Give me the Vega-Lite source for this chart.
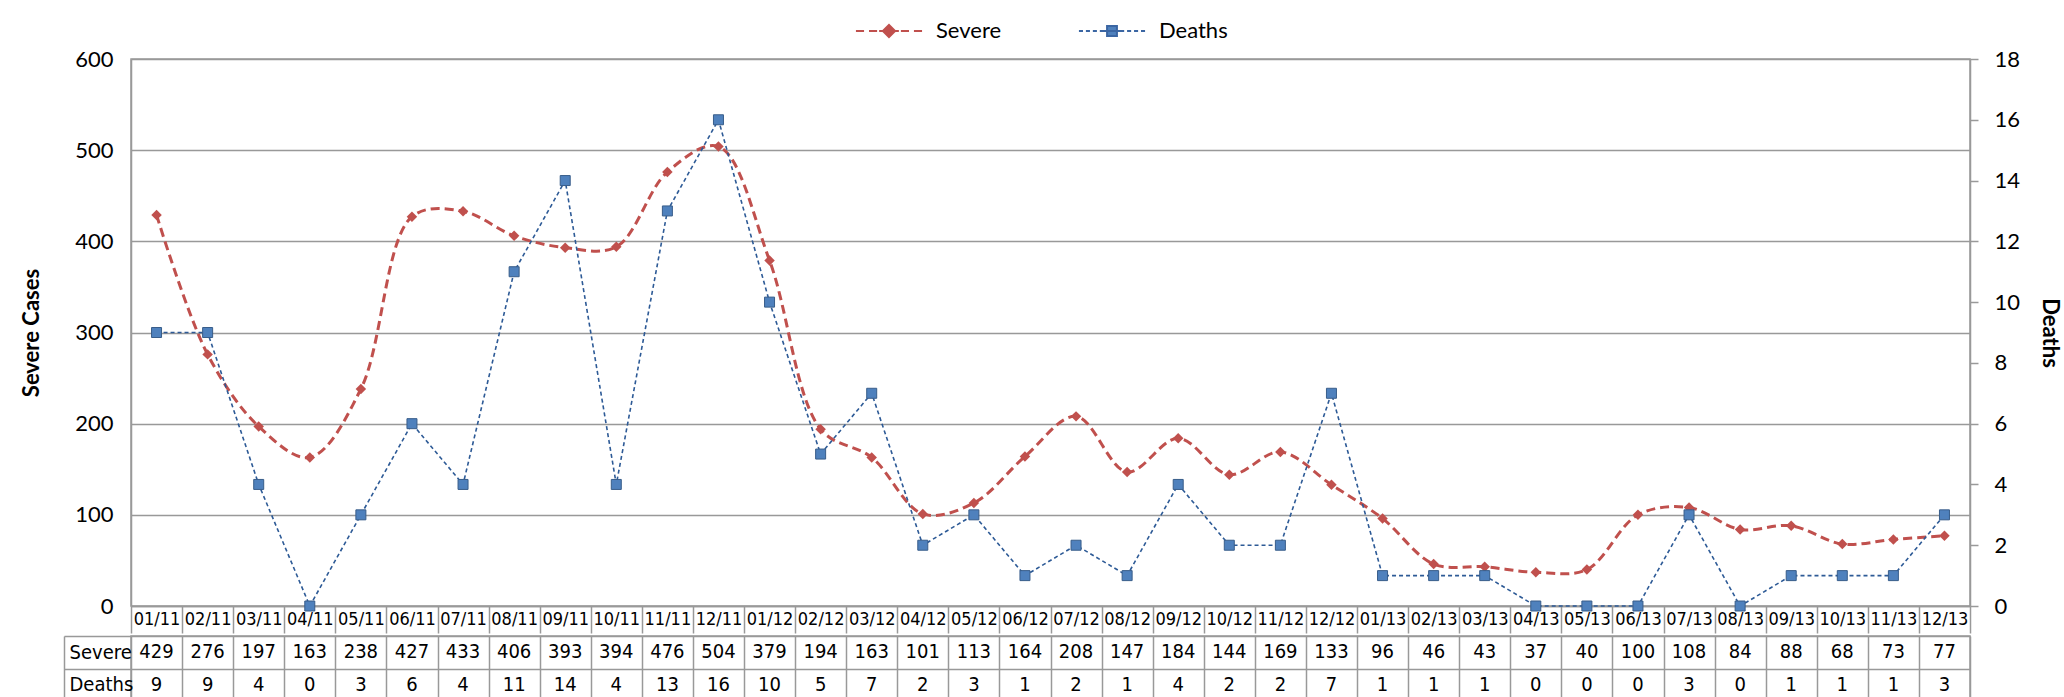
{
  "$schema": "https://vega.github.io/schema/vega-lite/v6.json",
  "padding": {"left": 19, "top": 0, "right": 0, "bottom": 0},
  "background": "white",
  "spacing": -10,
  "datasets": {
    "d": [
      {"m": "01/11", "Severe": 429, "Deaths": 9},
      {"m": "02/11", "Severe": 276, "Deaths": 9},
      {"m": "03/11", "Severe": 197, "Deaths": 4},
      {"m": "04/11", "Severe": 163, "Deaths": 0},
      {"m": "05/11", "Severe": 238, "Deaths": 3},
      {"m": "06/11", "Severe": 427, "Deaths": 6},
      {"m": "07/11", "Severe": 433, "Deaths": 4},
      {"m": "08/11", "Severe": 406, "Deaths": 11},
      {"m": "09/11", "Severe": 393, "Deaths": 14},
      {"m": "10/11", "Severe": 394, "Deaths": 4},
      {"m": "11/11", "Severe": 476, "Deaths": 13},
      {"m": "12/11", "Severe": 504, "Deaths": 16},
      {"m": "01/12", "Severe": 379, "Deaths": 10},
      {"m": "02/12", "Severe": 194, "Deaths": 5},
      {"m": "03/12", "Severe": 163, "Deaths": 7},
      {"m": "04/12", "Severe": 101, "Deaths": 2},
      {"m": "05/12", "Severe": 113, "Deaths": 3},
      {"m": "06/12", "Severe": 164, "Deaths": 1},
      {"m": "07/12", "Severe": 208, "Deaths": 2},
      {"m": "08/12", "Severe": 147, "Deaths": 1},
      {"m": "09/12", "Severe": 184, "Deaths": 4},
      {"m": "10/12", "Severe": 144, "Deaths": 2},
      {"m": "11/12", "Severe": 169, "Deaths": 2},
      {"m": "12/12", "Severe": 133, "Deaths": 7},
      {"m": "01/13", "Severe": 96, "Deaths": 1},
      {"m": "02/13", "Severe": 46, "Deaths": 1},
      {"m": "03/13", "Severe": 43, "Deaths": 1},
      {"m": "04/13", "Severe": 37, "Deaths": 0},
      {"m": "05/13", "Severe": 40, "Deaths": 0},
      {"m": "06/13", "Severe": 100, "Deaths": 0},
      {"m": "07/13", "Severe": 108, "Deaths": 3},
      {"m": "08/13", "Severe": 84, "Deaths": 0},
      {"m": "09/13", "Severe": 88, "Deaths": 1},
      {"m": "10/13", "Severe": 68, "Deaths": 1},
      {"m": "11/13", "Severe": 73, "Deaths": 1},
      {"m": "12/13", "Severe": 77, "Deaths": 3}
    ]
  },
  "resolve": {"legend": {"color": "independent", "stroke": "independent", "shape": "independent"}},
  "vconcat": [
    {
      "width": 1839,
      "height": 547,
      "data": {"name": "d"},
      "encoding": {
        "x": {
          "field": "m", "type": "ordinal", "sort": null,
          "scale": {"type": "band", "paddingInner": 0, "paddingOuter": 0},
          "axis": {
            "title": null, "orient": "bottom", "grid": false,
            "domainColor": "#999999", "domainWidth": 1.5,
            "ticks": true, "tickBand": "extent", "tickSize": 27, "tickColor": "#999999", "tickWidth": 1.5,
            "labelPadding": -23, "labelAngle": 0, "labelOverlap": false, "labelFlush": false,
            "labelFont": "DejaVu Sans Condensed, sans-serif", "labelFontSize": 18, "labelColor": "#000000"
          }
        }
      },
      "layer": [
        {
          "layer": [
            {
              "mark": {"type": "line", "interpolate": "catmull-rom", "strokeDash": [9, 5], "strokeWidth": 3, "stroke": "#c0504d"},
              "encoding": {
                "y": {
                  "field": "Severe", "type": "quantitative",
                  "scale": {"domain": [0, 600], "nice": false},
                  "axis": {
                    "orient": "left", "title": "Severe Cases", "values": [0, 100, 200, 300, 400, 500, 600],
                    "grid": true, "gridColor": "#999999", "gridWidth": 1.5,
                    "domainColor": "#999999", "domainWidth": 1.5, "ticks": false,
                    "labelPadding": 18, "labelFont": "Lato", "labelFontSize": 22, "labelColor": "#000000",
                    "titleFont": "Lato", "titleFontSize": 22, "titleFontWeight": "bold", "titleColor": "#000000",
                    "titleX": -100, "titleBaseline": "middle", "titleAngle": 270
                  }
                }
              }
            },
            {
              "mark": {"type": "point", "shape": "diamond", "filled": true, "size": 110, "opacity": 1, "fill": "#c0504d", "strokeWidth": 0},
              "encoding": {
                "y": {"field": "Severe", "type": "quantitative"}
              }
            },
            {
              "mark": {"type": "point", "filled": true, "opacity": 0},
              "encoding": {
                "y": {"field": "Severe", "type": "quantitative"},
                "color": {
                  "datum": "Severe",
                  "scale": {"domain": ["Severe", "Deaths"], "range": ["#c0504d", "#4f81bd"]},
                  "legend": {
                    "title": null, "orient": "none", "direction": "horizontal",
                    "legendX": 728, "legendY": -58,
                    "symbolSize": 3364, "labelOffset": 17, "columnPadding": 72, "symbolOpacity": 1,
                    "labelFont": "Lato", "labelFontSize": 22, "labelColor": "#000000",
                    "symbolStrokeWidth": 2
                  }
                },
                "stroke": {
                  "datum": "Severe",
                  "scale": {"domain": ["Severe", "Deaths"], "range": ["#c0504d", "#3b66a3"]},
                  "legend": {
                    "title": null, "orient": "none", "direction": "horizontal",
                    "legendX": 728, "legendY": -58,
                    "symbolSize": 3364, "labelOffset": 17, "columnPadding": 72, "symbolOpacity": 1,
                    "labelFont": "Lato", "labelFontSize": 22, "labelColor": "#000000",
                    "symbolStrokeWidth": 2
                  }
                },
                "shape": {
                  "datum": "Severe",
                  "scale": {
                    "domain": ["Severe", "Deaths"],
                    "range": [
                      "M-1.14,0H-0.86M-0.69,0H-0.41M-0.34,0H0.34M0.41,0H0.69M0.86,0H1.14M-0.21,0L0,-0.21L0.21,0L0,0.21Z",
                      "M-1.14,0H-1.0M-0.9,0H-0.76M-0.66,0H-0.52M-0.42,0H0.42M0.52,0H0.66M0.76,0H0.9M1.0,0H1.14M-0.17,-0.17H0.17V0.17H-0.17Z"
                    ]
                  },
                  "legend": {
                    "title": null, "orient": "none", "direction": "horizontal",
                    "legendX": 728, "legendY": -58,
                    "symbolSize": 3364, "labelOffset": 17, "columnPadding": 72, "symbolOpacity": 1,
                    "labelFont": "Lato", "labelFontSize": 22, "labelColor": "#000000",
                    "symbolStrokeWidth": 2
                  }
                }
              }
            }
          ]
        },
        {
          "layer": [
            {
              "mark": {"type": "line", "strokeDash": [4, 3], "strokeWidth": 1.6, "stroke": "#2d5a96"},
              "encoding": {
                "y": {
                  "field": "Deaths", "type": "quantitative",
                  "scale": {"domain": [0, 18], "nice": false},
                  "axis": {
                    "orient": "right", "title": "Deaths", "values": [0, 2, 4, 6, 8, 10, 12, 14, 16, 18],
                    "grid": false, "domainColor": "#999999", "domainWidth": 1.5,
                    "ticks": true, "tickSize": 8, "tickColor": "#999999", "tickWidth": 1.5,
                    "labelPadding": 16, "labelFont": "Lato", "labelFontSize": 22, "labelColor": "#000000",
                    "titleFont": "Lato", "titleFontSize": 22, "titleFontWeight": "bold", "titleColor": "#000000",
                    "titleX": 79, "titleBaseline": "middle", "titleAngle": 90
                  }
                }
              }
            },
            {
              "mark": {"type": "point", "shape": "square", "filled": true, "size": 100, "opacity": 1, "fill": "#4f81bd", "stroke": "#385d8a", "strokeWidth": 1},
              "encoding": {
                "y": {"field": "Deaths", "type": "quantitative"}
              }
            },
            {
              "mark": {"type": "point", "filled": true, "opacity": 0},
              "encoding": {
                "y": {"field": "Deaths", "type": "quantitative"},
                "color": {"datum": "Deaths"},
                "stroke": {"datum": "Deaths"},
                "shape": {"datum": "Deaths"}
              }
            }
          ]
        }
      ],
      "resolve": {"scale": {"y": "independent"}}
    },
    {
      "width": 1839,
      "height": 65,
      "data": {"name": "d"},
      "transform": [{"fold": ["Severe", "Deaths"], "as": ["row", "value"]}],
      "encoding": {
        "x": {
          "field": "m", "type": "ordinal", "sort": null,
          "scale": {"type": "band", "paddingInner": 0, "paddingOuter": 0},
          "axis": {
            "orient": "bottom", "title": null, "labels": false, "ticks": false, "domain": false,
            "grid": true, "tickBand": "extent", "gridColor": "#999999", "gridWidth": 1.5,
            "minExtent": 0, "maxExtent": 0
          }
        }
      },
      "layer": [
        {
          "mark": {"type": "text", "font": "DejaVu Sans Condensed, sans-serif", "fontSize": 20, "color": "#000000", "baseline": "middle"},
          "encoding": {
            "y": {
              "field": "row", "type": "nominal", "sort": ["Severe", "Deaths"],
              "scale": {"type": "band", "paddingInner": 0, "paddingOuter": 0},
              "axis": {
                "orient": "left", "title": null, "grid": true, "tickBand": "extent",
                "gridColor": "#999999", "gridWidth": 1.5, "domain": false,
                "ticks": true, "tickSize": 67, "tickColor": "#999999", "tickWidth": 1.5,
                "labelAlign": "left", "labelPadding": -5,
                "labelFont": "DejaVu Sans Condensed, sans-serif", "labelFontSize": 20, "labelColor": "#000000"
              }
            },
            "text": {"field": "value", "type": "quantitative"}
          }
        },
        {
          "mark": {"type": "text", "opacity": 0},
          "encoding": {
            "y": {
              "field": "row", "type": "nominal", "sort": ["Severe", "Deaths"],
              "scale": {"type": "band", "paddingInner": 0, "paddingOuter": 0},
              "axis": {
                "orient": "left", "title": null, "grid": false, "labels": false, "ticks": false,
                "domain": true, "domainColor": "#999999", "domainWidth": 1.5, "offset": 67
              }
            },
            "text": {"field": "value", "type": "quantitative"}
          }
        }
      ],
      "resolve": {"scale": {"y": "independent"}}
    }
  ],
  "config": {
    "view": {"stroke": "#999999", "strokeWidth": 1.5}
  }
}
